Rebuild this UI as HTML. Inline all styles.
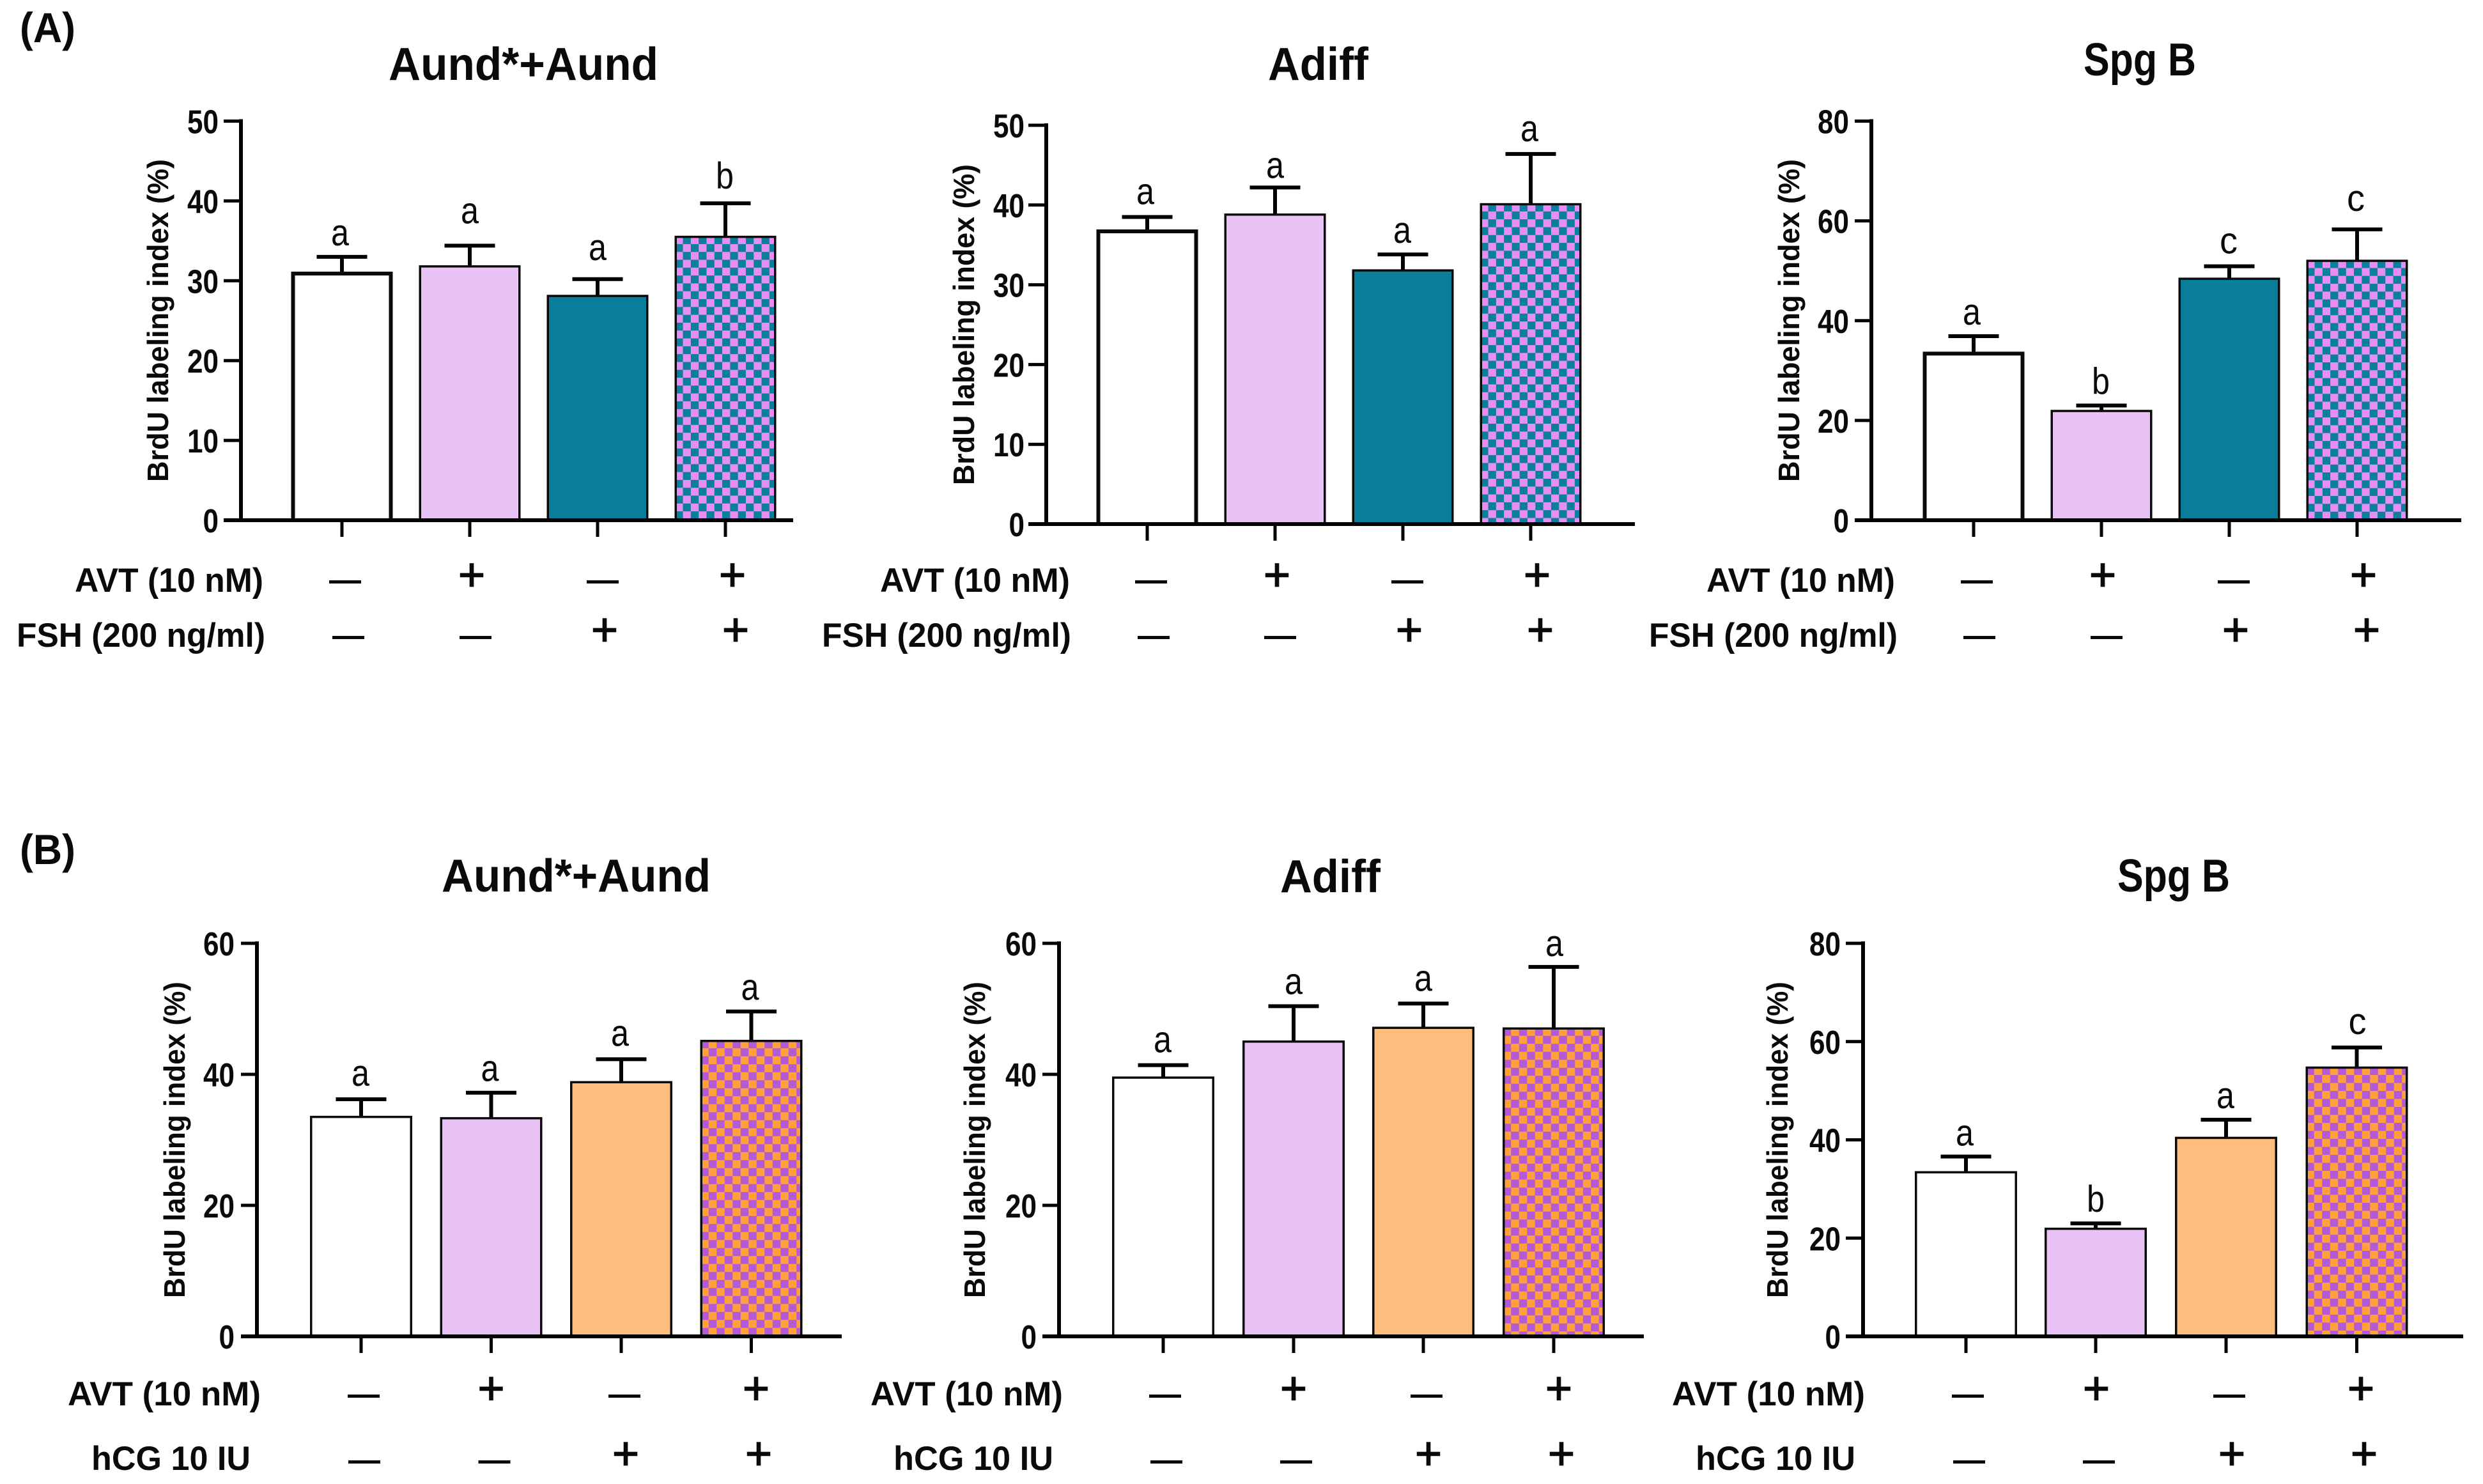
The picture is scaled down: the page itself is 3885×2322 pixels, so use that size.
<!DOCTYPE html>
<html lang="en">
<head>
<meta charset="utf-8">
<title>BrdU labeling index panels</title>
<style>
html,body{margin:0;padding:0;background:#fff;width:3885px;height:2322px;overflow:hidden}
svg{display:block}
text{font-family:"Liberation Sans",Arial,sans-serif;fill:#0a0a0a}
</style>
</head>
<body>
<svg id="figure" xmlns="http://www.w3.org/2000/svg" width="3885" height="2322" viewBox="0 0 3885 2322">
  <rect x="0" y="0" width="3885" height="2322" fill="#ffffff"/>
  <text x="31" y="66" font-size="66" font-weight="700" textLength="87" lengthAdjust="spacingAndGlyphs">(A)</text>
  <text x="31" y="1352" font-size="66" font-weight="700" textLength="87" lengthAdjust="spacingAndGlyphs">(B)</text>
</svg>
<script>
// ---- chart data ----
const yAxisTitle = 'BrdU labeling index (%)';
const avtRowLabel = 'AVT (10 nM)';
const fshRowLabel = 'FSH (200 ng/ml)';
const hcgRowLabel = 'hCG 10 IU';
const avtFlags = [0, 1, 0, 1];
const hormoneFlags = [0, 0, 1, 1];

const ticksFifty = [0, 10, 20, 30, 40, 50];
const ticksSixty = [0, 20, 40, 60];
const ticksEighty = [0, 20, 40, 60, 80];

const aAundMeans = [30.9, 31.8, 28.1, 35.5];
const aAundErrors = [2.1, 2.6, 2.1, 4.2];
const aAundLetters = ['a', 'a', 'a', 'b'];

const aAdiffMeans = [36.7, 38.8, 31.8, 40.1];
const aAdiffErrors = [1.8, 3.4, 2.0, 6.3];
const aAdiffLetters = ['a', 'a', 'a', 'a'];

const aSpgMeans = [33.4, 21.9, 48.4, 52.0];
const aSpgErrors = [3.5, 1.1, 2.5, 6.3];
const aSpgLetters = ['a', 'b', 'c', 'c'];

const bAundMeans = [33.5, 33.3, 38.8, 45.1];
const bAundErrors = [2.7, 3.9, 3.5, 4.5];
const bAundLetters = ['a', 'a', 'a', 'a'];

const bAdiffMeans = [39.5, 45.0, 47.1, 47.0];
const bAdiffErrors = [1.9, 5.4, 3.7, 9.4];
const bAdiffLetters = ['a', 'a', 'a', 'a'];

const bSpgMeans = [33.4, 21.9, 40.4, 54.7];
const bSpgErrors = [3.2, 1.1, 3.7, 4.1];
const bSpgLetters = ['a', 'b', 'a', 'c'];

// ---- styling per section ----
const sectionA = {fills: ['#ffffff', '#e9c3f6', '#087e9a'], check: ['#e68ef6', '#0a7f9a'], period: 24.6, whiteStroke: 6,
  row1Minus: 910, row1Plus: 899, row2Minus: 997, row2Plus: 985, row1Base: 926, row2Base: 1012, tickLen: 26};
const sectionB = {fills: ['#ffffff', '#e9c3f6', '#ffbe7e'], check: ['#b45ad6', '#ffa03a'], period: 25, whiteStroke: 3.5,
  row1Minus: 2184, row1Plus: 2172, row2Minus: 2287, row2Plus: 2274, row1Base: 2199, row2Base: 2300, tickLen: 26};

// ---- panel frames (geometry only) ----
const panels = [
 {id: 'a-aund', title: 'Aund*+Aund', means: aAundMeans, errors: aAundErrors, letters: aAundLetters, ticks: ticksFifty, sec: sectionA, row2: fshRowLabel,
  axisX: 377, top: 189.5, zero: 814, right: 1241, tickLeft: 350, labelRight: 342, centers: [535, 735, 935, 1135], barW: 159,
  letterDx: [-3, 0, 0, -1], letterGap: [18, 35, 30, 23], titleBox: [608, 1030, 125], yTitle: [249, 754, 249],
  row1Box: [117, 412], row2Box: [26, 415], row1Marks: [540, 738, 943, 1146], row2Marks: [545, 744, 946, 1151]},
 {id: 'a-adiff', title: 'Adiff', means: aAdiffMeans, errors: aAdiffErrors, letters: aAdiffLetters, ticks: ticksFifty, sec: sectionA, row2: fshRowLabel,
  axisX: 1637, top: 196, zero: 820, right: 2558, tickLeft: 1609, labelRight: 1603, centers: [1795, 1995, 2195, 2395], barW: 159,
  letterDx: [-3, 0, -1, -2], letterGap: [20, 15, 18, 20], titleBox: [1984, 2141, 125], yTitle: [1510, 759, 257],
  row1Box: [1377, 1674], row2Box: [1286, 1676], row1Marks: [1801, 1998, 2202, 2405], row2Marks: [1805, 2003, 2205, 2410]},
 {id: 'a-spg', title: 'Spg B', means: aSpgMeans, errors: aSpgErrors, letters: aSpgLetters, ticks: ticksEighty, sec: sectionA, row2: fshRowLabel,
  axisX: 2928, top: 189.5, zero: 814, right: 3851, tickLeft: 2902, labelRight: 2893, centers: [3088, 3288, 3488, 3688], barW: 159,
  letterDx: [-3, -1, -1, -2], letterGap: [18, 18, 20, 29], titleBox: [3260, 3436, 118], yTitle: [2801, 754, 249],
  row1Box: [2670, 2965], row2Box: [2580, 2969], row1Marks: [3093, 3290, 3495, 3698], row2Marks: [3097, 3296, 3498, 3703]},
 {id: 'b-aund', title: 'Aund*+Aund', means: bAundMeans, errors: bAundErrors, letters: bAundLetters, ticks: ticksSixty, sec: sectionB, row2: hcgRowLabel,
  axisX: 402, top: 1476, zero: 2091, right: 1317, tickLeft: 377, labelRight: 367, centers: [565, 768.5, 972, 1175.5], barW: 160,
  letterDx: [-1, -2, -2, -2], letterGap: [21, 18, 21, 18], titleBox: [691, 1112, 1395], yTitle: [275, 2031, 1536],
  row1Box: [106, 408], row2Box: [143, 392], row1Marks: [569, 768.5, 977, 1183], row2Marks: [570, 773.5, 979, 1187]},
 {id: 'b-adiff', title: 'Adiff', means: bAdiffMeans, errors: bAdiffErrors, letters: bAdiffLetters, ticks: ticksSixty, sec: sectionB, row2: hcgRowLabel,
  axisX: 1657, top: 1476, zero: 2091, right: 2572, tickLeft: 1631, labelRight: 1622, centers: [1820, 2024, 2227, 2431], barW: 160,
  letterDx: [-1, 0, 0, 1], letterGap: [20, 19, 20, 17], titleBox: [2003, 2160, 1396], yTitle: [1527, 2031, 1536],
  row1Box: [1362, 1663], row2Box: [1398, 1648], row1Marks: [1823, 2024, 2232, 2439], row2Marks: [1825, 2028, 2235, 2443]},
 {id: 'b-spg', title: 'Spg B', means: bSpgMeans, errors: bSpgErrors, letters: bSpgLetters, ticks: ticksEighty, sec: sectionB, row2: hcgRowLabel,
  axisX: 2915, top: 1476, zero: 2091, right: 3854, tickLeft: 2888, labelRight: 2880, centers: [3076, 3279, 3483, 3687.5], barW: 160,
  letterDx: [-2, 0, -1, 1], letterGap: [17, 18, 18, 21], titleBox: [3313, 3489, 1395], yTitle: [2783, 2031, 1536],
  row1Box: [2616, 2918], row2Box: [2653, 2903], row1Marks: [3079, 3280, 3488, 3694], row2Marks: [3081, 3284, 3492, 3699]}
];

const NS = 'http://www.w3.org/2000/svg';
const svg = document.getElementById('figure');
const defs = document.createElementNS(NS, 'defs');
svg.appendChild(defs);

function make(parent, tag, attrs, content) {
  const node = document.createElementNS(NS, tag);
  for (const key in attrs) node.setAttribute(key, attrs[key]);
  if (content !== undefined) node.textContent = content;
  parent.appendChild(node);
  return node;
}

function yScale(panel, value) {
  const maxTick = panel.ticks[panel.ticks.length - 1];
  return panel.zero - (value / maxTick) * (panel.zero - panel.top);
}

function checker(id, x, y, period, colors) {
  const pat = make(defs, 'pattern', {id: id, patternUnits: 'userSpaceOnUse', x: x, y: y, width: period, height: period});
  make(pat, 'rect', {x: 0, y: 0, width: period, height: period, fill: colors[1]});
  make(pat, 'rect', {x: 0, y: 0, width: period / 2, height: period / 2, fill: colors[0]});
  make(pat, 'rect', {x: period / 2, y: period / 2, width: period / 2, height: period / 2, fill: colors[0]});
  return 'url(#' + id + ')';
}

function drawMark(group, flag, cx, minusY, plusY) {
  let el;
  if (flag) {
    el = make(group, 'text', {x: cx, y: plusY + 25, 'font-size': 72, 'font-weight': 400, 'text-anchor': 'middle', stroke: '#0a0a0a', 'stroke-width': 1.5}, '+');
    
    
  } else {
    el = make(group, 'text', {x: cx, y: minusY + 14, 'font-size': 50, 'font-weight': 700, 'text-anchor': 'middle'}, '\u2014');
    
    
  }
}

panels.forEach(function (p) {
  const g = make(svg, 'g', {});
  
  

  const title = make(g, 'text', {x: p.titleBox[0], y: p.titleBox[2], 'font-size': 72, 'font-weight': 700, textLength: p.titleBox[1] - p.titleBox[0], lengthAdjust: 'spacingAndGlyphs'}, p.title);
  
  

  const axisTitle = make(g, 'text', {transform: 'translate(' + (p.yTitle[0] + 14) + ',' + p.yTitle[1] + ') rotate(-90)', x: 0, y: 0, 'font-size': 46, 'font-weight': 700, textLength: p.yTitle[1] - p.yTitle[2], lengthAdjust: 'spacingAndGlyphs'}, yAxisTitle);
  
  

  p.means.forEach(function (mean, i) {
    const cx = p.centers[i];
    const top = yScale(p, mean);
    const tip = yScale(p, mean + p.errors[i]);
    const isChecker = i === 3;
    const stroke = i === 0 ? p.sec.whiteStroke : 3.5;
    const left = cx - p.barW / 2 + stroke / 2;
    const width = p.barW - stroke;
    const fill = isChecker
      ? checker('check-' + p.id, left - 1, top - 1, p.sec.period, p.sec.check)
      : p.sec.fills[i];

    const stem = make(g, 'line', {x1: cx, x2: cx, y1: top, y2: tip, stroke: '#000', 'stroke-width': 6});
    
    

    const cap = make(g, 'line', {x1: cx - 39.5, x2: cx + 39.5, y1: tip, y2: tip, stroke: '#000', 'stroke-width': 6});
    
    

    const bar = make(g, 'rect', {x: left, y: top, width: width, height: p.zero - top, fill: fill, stroke: '#0a0a0a', 'stroke-width': stroke});
    
    

    const letter = make(g, 'text', {x: cx + p.letterDx[i] - 14, y: tip - p.letterGap[i], 'font-size': 58, textLength: 28, lengthAdjust: 'spacingAndGlyphs'}, p.letters[i]);
    
    

    const tick = make(g, 'line', {x1: cx, x2: cx, y1: p.zero, y2: p.zero + p.sec.tickLen, stroke: '#000', 'stroke-width': 5});
    
    

    drawMark(g, avtFlags[i], p.row1Marks[i], p.sec.row1Minus, p.sec.row1Plus);
    drawMark(g, hormoneFlags[i], p.row2Marks[i], p.sec.row2Minus, p.sec.row2Plus);
  });

  const yAxis = make(g, 'line', {x1: p.axisX, x2: p.axisX, y1: p.top - 3, y2: p.zero + 3, stroke: '#000', 'stroke-width': 6});
  
  

  const xAxis = make(g, 'line', {x1: p.tickLeft, x2: p.right, y1: p.zero, y2: p.zero, stroke: '#000', 'stroke-width': 6});
  
  

  p.ticks.forEach(function (t) {
    const y = yScale(p, t);
    const tick = make(g, 'line', {x1: p.tickLeft, x2: p.axisX, y1: y, y2: y, stroke: '#000', 'stroke-width': 5});
    
    
    const str = String(t);
    const w = str.length * 24.5;
    const label = make(g, 'text', {x: p.labelRight - w, y: y + 19, 'font-size': 52, 'font-weight': 700, textLength: w, lengthAdjust: 'spacingAndGlyphs'}, str);
    
    
  });

  const row1 = make(g, 'text', {x: p.row1Box[0], y: p.sec.row1Base, 'font-size': 53, 'font-weight': 700, textLength: p.row1Box[1] - p.row1Box[0], lengthAdjust: 'spacingAndGlyphs'}, avtRowLabel);
  
  

  const row2 = make(g, 'text', {x: p.row2Box[0], y: p.sec.row2Base, 'font-size': 53, 'font-weight': 700, textLength: p.row2Box[1] - p.row2Box[0], lengthAdjust: 'spacingAndGlyphs'}, p.row2);
  
  
});
</script>
</body>
</html>
